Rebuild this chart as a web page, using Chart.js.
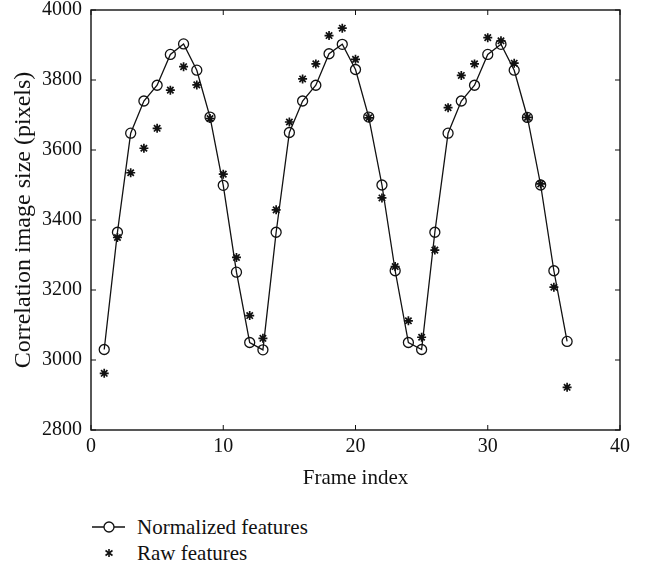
<!DOCTYPE html>
<html>
<head>
<meta charset="utf-8">
<script src="https://cdn.jsdelivr.net/npm/chart.js@4"></script>
<style>
  body { margin: 0; background: #fff; }
  #wrap { position: relative; width: 646px; height: 569px; }
  #chart { position: absolute; left: 0; top: 0; }
  .legend { position: absolute; left: 92px; top: 514px; font-family: "Liberation Serif", serif; font-size: 21px; color: #111; }
  .legend div { height: 26px; display: flex; align-items: center; }
  .legend svg { margin-right: 11px; }
</style>
</head>
<body>
<div id="wrap">
  <canvas id="chart" width="646" height="500"></canvas>
  <div class="legend">
    <div><svg width="34" height="14"><line x1="0" y1="7" x2="33" y2="7" stroke="#111" stroke-width="1.3"/><circle cx="17" cy="7" r="5" fill="#fff" stroke="#111" stroke-width="1.3"/></svg>Normalized features</div>
    <div><svg width="34" height="14"><g stroke="#111" stroke-width="1.6"><line x1="17" y1="3" x2="17" y2="11"/><line x1="13.5" y1="4.5" x2="20.5" y2="9.5"/><line x1="20.5" y1="4.5" x2="13.5" y2="9.5"/></g></svg>Raw features</div>
  </div>
</div>
<script>
const frames = [1,2,3,4,5,6,7,8,9,10,11,12,13,14,15,16,17,18,19,20,21,22,23,24,25,26,27,28,29,30,31,32,33,34,35,36];
const normalized = [3030,3365,3648,3740,3785,3873,3903,3828,3694,3499,3251,3050,
                    3029,3365,3650,3740,3785,3875,3902,3830,3694,3500,3255,3050,
                    3030,3365,3648,3740,3785,3873,3902,3828,3693,3500,3255,3053];
const raw = [2962,3350,3535,3605,3662,3771,3838,3786,3690,3531,3293,3127,
             3062,3429,3680,3803,3846,3927,3948,3859,3692,3463,3267,3112,
             3065,3314,3721,3813,3846,3921,3912,3848,3693,3503,3208,2922];
const xTicks = [0,10,20,30,40];
const yTicks = [2800,3000,3200,3400,3600,3800,4000];

const serif = '"Liberation Serif", serif';
const ink = '#111';

// box around plot + inward ticks on all four sides
const frameBox = {
  id: 'frameBox',
  afterDraw(chart) {
    const { ctx, chartArea: a, scales } = chart;
    ctx.save();
    ctx.strokeStyle = ink;
    ctx.lineWidth = 1.4;
    ctx.strokeRect(a.left, a.top, a.right - a.left, a.bottom - a.top);
    ctx.lineWidth = 1;
    const t = 5;
    ctx.beginPath();
    xTicks.forEach(v => {
      const px = scales.x.getPixelForValue(v);
      ctx.moveTo(px, a.bottom); ctx.lineTo(px, a.bottom - t);
      ctx.moveTo(px, a.top); ctx.lineTo(px, a.top + t);
    });
    yTicks.forEach(v => {
      const py = scales.y.getPixelForValue(v);
      ctx.moveTo(a.left, py); ctx.lineTo(a.left + t, py);
      ctx.moveTo(a.right, py); ctx.lineTo(a.right - t, py);
    });
    ctx.stroke();
    ctx.restore();
  }
};

new Chart(document.getElementById('chart'), {
  type: 'scatter',
  data: {
    datasets: [
      {
        label: 'Normalized features',
        data: frames.map((f, i) => ({ x: f, y: normalized[i] })),
        showLine: true,
        borderColor: ink,
        borderWidth: 1.3,
        pointStyle: 'circle',
        pointRadius: 5,
        pointBorderWidth: 1.3,
        pointBackgroundColor: 'rgba(0,0,0,0)',
        pointBorderColor: ink
      },
      {
        label: 'Raw features',
        data: frames.map((f, i) => ({ x: f, y: raw[i] })),
        showLine: false,
        pointStyle: 'star',
        pointRadius: 4.5,
        pointBorderWidth: 1.7,
        pointBorderColor: ink,
        pointBackgroundColor: ink
      }
    ]
  },
  options: {
    responsive: false,
    animation: false,
    layout: { padding: { left: 0, right: 26, top: 10, bottom: 0 } },
    plugins: { legend: { display: false }, tooltip: { enabled: false } },
    scales: {
      x: {
        type: 'linear', min: 0, max: 40,
        afterFit: s => { s.height = 70; s.paddingLeft = 0; s.paddingRight = 0; },
        afterBuildTicks: s => { s.ticks = xTicks.map(v => ({ value: v })); },
        grid: { display: false, drawTicks: false },
        border: { display: false },
        ticks: { color: ink, font: { family: serif, size: 20 }, padding: 5, callback: v => String(v) },
        title: { display: true, text: 'Frame index', color: ink, font: { family: serif, size: 21 }, padding: { top: 0, bottom: 9 } }
      },
      y: {
        min: 2800, max: 4000,
        afterFit: s => { s.width = 91; s.paddingTop = 0; s.paddingBottom = 0; },
        afterBuildTicks: s => { s.ticks = yTicks.map(v => ({ value: v })); },
        grid: { display: false, drawTicks: false },
        border: { display: false },
        ticks: { color: ink, font: { family: serif, size: 20 }, padding: 9, callback: v => String(v) },
        title: { display: true, text: 'Correlation image size (pixels)', color: ink, font: { family: serif, size: 24 }, padding: { top: 9, bottom: 0 } }
      }
    }
  },
  plugins: [frameBox]
});
</script>
</body>
</html>
